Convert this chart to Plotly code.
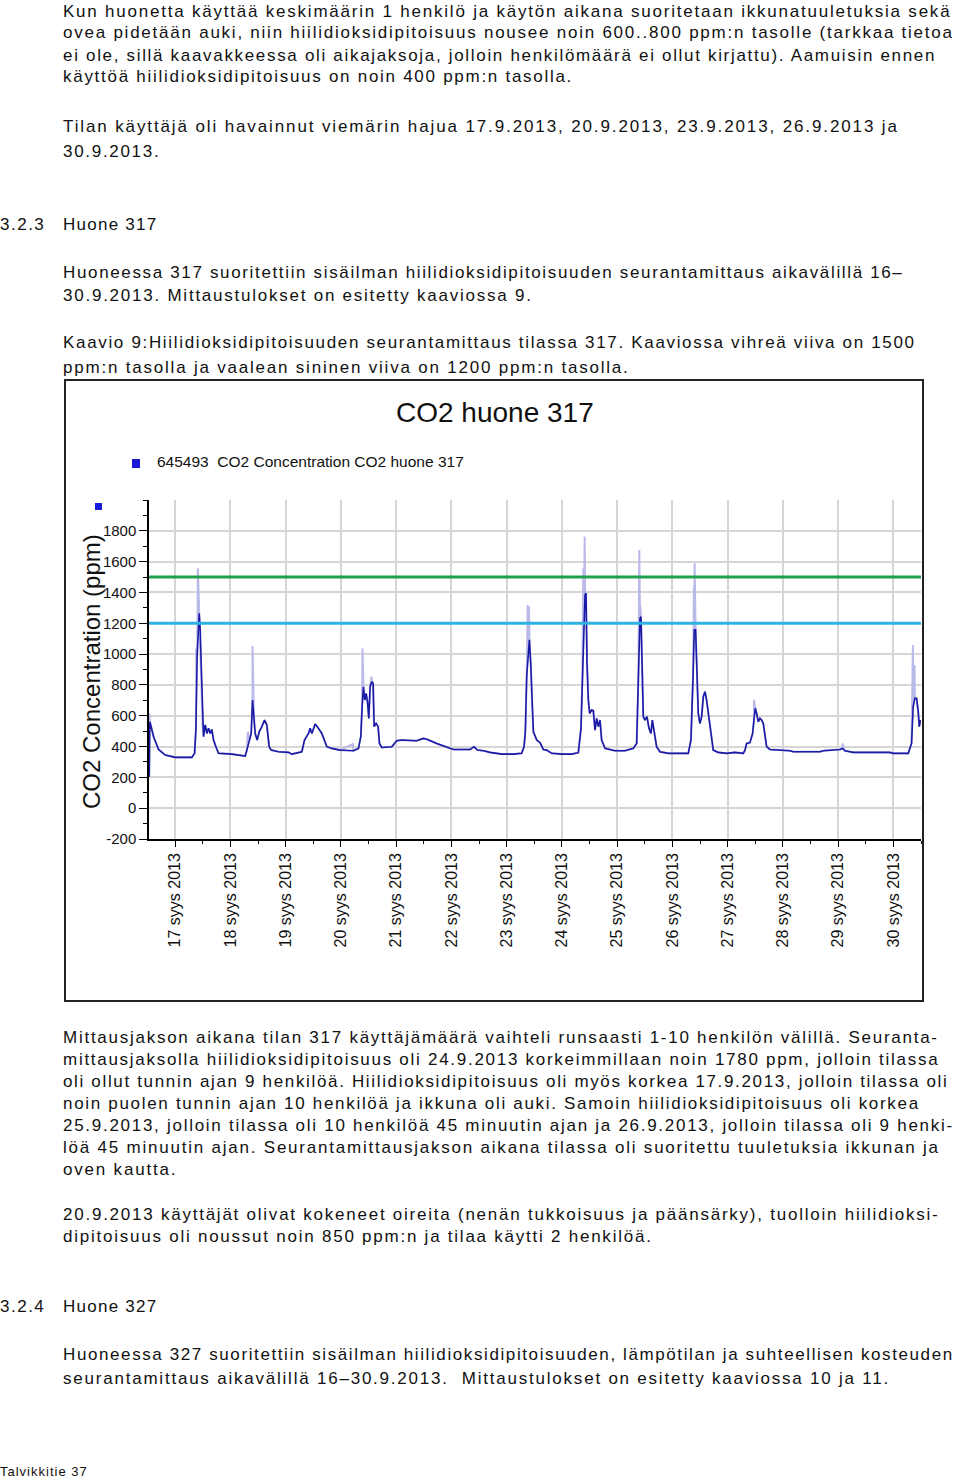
import plotly.graph_objects as go

# ---------------- data ----------------
# day of September 2013 (fractional) and CO2 concentration (ppm), main (dark) series
co2_day = [
    16.529, 16.541, 16.608, 16.698, 16.819, 17.000, 17.301, 17.350, 17.374, 17.398,
    17.434, 17.452, 17.470, 17.494, 17.512, 17.543, 17.573, 17.603, 17.633, 17.663,
    17.693, 17.736, 17.784, 18.025, 18.266, 18.297, 18.339, 18.375, 18.399, 18.423,
    18.447, 18.483, 18.520, 18.568, 18.616, 18.658, 18.700, 18.737, 18.869, 19.050,
    19.111, 19.292, 19.340, 19.412, 19.442, 19.473, 19.533, 19.593, 19.653, 19.744,
    19.834, 19.985, 20.226, 20.317, 20.359, 20.383, 20.407, 20.431, 20.455, 20.480,
    20.504, 20.528, 20.558, 20.582, 20.600, 20.636, 20.673, 20.697, 20.739, 20.920,
    21.010, 21.101, 21.252, 21.372, 21.493, 21.565, 21.734, 21.915, 22.036, 22.337,
    22.409, 22.470, 22.578, 22.699, 22.910, 23.121, 23.272, 23.314, 23.338, 23.362,
    23.387, 23.411, 23.435, 23.459, 23.483, 23.544, 23.604, 23.664, 23.724, 23.815,
    23.995, 24.176, 24.297, 24.345, 24.369, 24.394, 24.418, 24.436, 24.454, 24.478,
    24.502, 24.538, 24.568, 24.599, 24.629, 24.659, 24.689, 24.719, 24.780, 24.960,
    25.141, 25.292, 25.353, 25.383, 25.413, 25.431, 25.449, 25.473, 25.503, 25.539,
    25.576, 25.612, 25.636, 25.672, 25.714, 25.775, 25.925, 26.287, 26.335, 26.372,
    26.396, 26.420, 26.444, 26.468, 26.498, 26.529, 26.559, 26.589, 26.619, 26.649,
    26.697, 26.739, 26.830, 26.981, 27.132, 27.283, 27.313, 27.344, 27.404, 27.452,
    27.476, 27.500, 27.525, 27.555, 27.585, 27.615, 27.645, 27.675, 27.705, 27.766,
    27.947, 28.128, 28.188, 28.670, 28.731, 28.972, 29.032, 29.080, 29.123, 29.273,
    29.937, 29.997, 30.269, 30.329, 30.359, 30.389, 30.420, 30.450, 30.468, 30.492,
]
co2_ppm = [
    204, 561, 464, 381, 345, 330, 330, 356, 507, 1005,
    1265, 1157, 940, 550, 464, 540, 485, 518, 485, 511,
    442, 399, 356, 351, 338, 377, 442, 485, 702, 615,
    485, 442, 496, 529, 572, 540, 399, 377, 366, 362,
    351, 366, 442, 485, 518, 485, 546, 518, 485, 399,
    388, 377, 373, 388, 464, 659, 788, 702, 745, 691,
    583, 788, 821, 810, 529, 550, 529, 420, 394, 399,
    438, 442, 438, 438, 453, 446, 420, 394, 381, 381,
    399, 377, 373, 362, 351, 351, 356, 399, 496, 853,
    1005, 1092, 940, 691, 496, 442, 425, 381, 377, 356,
    351, 351, 360, 518, 853, 1221, 1384, 1395, 940, 702,
    615, 637, 633, 507, 583, 529, 572, 442, 388, 373,
    373, 388, 420, 832, 1232, 1243, 962, 594, 572, 594,
    518, 485, 572, 485, 399, 366, 356, 356, 442, 832,
    1157, 1157, 897, 615, 550, 594, 724, 756, 702, 615,
    507, 377, 362, 356, 362, 356, 377, 420, 425, 485,
    572, 648, 615, 561, 583, 572, 550, 485, 399, 381,
    377, 373, 366, 366, 373, 377, 381, 388, 373, 362,
    362, 356, 356, 420, 659, 713, 713, 626, 529, 572,
]
# short maximum spikes (light series)
peak_day = [16.530, 17.379, 17.410, 17.428, 18.314, 18.399, 20.214, 20.389, 20.552,
            23.380, 23.405, 24.388, 24.412, 25.401, 25.419, 26.390, 26.402,
            27.476, 29.080, 30.353, 30.383]
peak_ppm = [615, 1037, 1557, 1341, 496, 1053, 416, 1037, 853,
            1319, 1308, 1557, 1763, 1676, 1308, 1438, 1590,
            702, 420, 1059, 929]

limit_green = 1500
limit_cyan = 1200

tick_days = list(range(17, 31))
tick_labels = [f"{d} syys 2013" for d in tick_days]
y_ticks = list(range(-200, 1801, 200))

chart_title = "CO2 huone 317"
legend_label = "645493  CO2 Concentration CO2 huone 317"
y_title = "CO2 Concentration (ppm)"

# (y centre px, letter spacing px, text)
body_lines = [
    (11, 1.78, "Kun huonetta käyttää keskimäärin 1 henkilö ja käytön aikana suoritetaan ikkunatuuletuksia sekä"),
    (33, 1.76, "ovea pidetään auki, niin hiilidioksidipitoisuus nousee noin 600..800 ppm:n tasolle (tarkkaa tietoa"),
    (55, 1.68, "ei ole, sillä kaavakkeessa oli aikajaksoja, jolloin henkilömäärä ei ollut kirjattu). Aamuisin ennen"),
    (77, 1.72, "käyttöä hiilidioksidipitoisuus on noin 400 ppm:n tasolla."),
    (126, 1.88, "Tilan käyttäjä oli havainnut viemärin hajua 17.9.2013, 20.9.2013, 23.9.2013, 26.9.2013 ja"),
    (151, 1.7, "30.9.2013."),
    (224, 1.25, "Huone 317"),
    (272, 1.65, "Huoneessa 317 suoritettiin sisäilman hiilidioksidipitoisuuden seurantamittaus aikavälillä 16–"),
    (296, 1.76, "30.9.2013. Mittaustulokset on esitetty kaaviossa 9."),
    (343, 1.67, "Kaavio 9:Hiilidioksidipitoisuuden seurantamittaus tilassa 317. Kaaviossa vihreä viiva on 1500"),
    (367, 1.79, "ppm:n tasolla ja vaalean sininen viiva on 1200 ppm:n tasolla."),
    (1037, 1.74, "Mittausjakson aikana tilan 317 käyttäjämäärä vaihteli runsaasti 1-10 henkilön välillä. Seuranta-"),
    (1059, 1.72, "mittausjaksolla hiilidioksidipitoisuus oli 24.9.2013 korkeimmillaan noin 1780 ppm, jolloin tilassa"),
    (1081, 1.66, "oli ollut tunnin ajan 9 henkilöä. Hiilidioksidipitoisuus oli myös korkea 17.9.2013, jolloin tilassa oli"),
    (1103, 1.69, "noin puolen tunnin ajan 10 henkilöä ja ikkuna oli auki. Samoin hiilidioksidipitoisuus oli korkea"),
    (1125, 1.72, "25.9.2013, jolloin tilassa oli 10 henkilöä 45 minuutin ajan ja 26.9.2013, jolloin tilassa oli 9 henki-"),
    (1147, 1.78, "löä 45 minuutin ajan. Seurantamittausjakson aikana tilassa oli suoritettu tuuletuksia ikkunan ja"),
    (1169, 1.8, "oven kautta."),
    (1214, 1.76, "20.9.2013 käyttäjät olivat kokeneet oireita (nenän tukkoisuus ja päänsärky), tuolloin hiilidioksi-"),
    (1236, 1.76, "dipitoisuus oli noussut noin 850 ppm:n ja tilaa käytti 2 henkilöä."),
    (1306, 1.25, "Huone 327"),
    (1354, 1.6, "Huoneessa 327 suoritettiin sisäilman hiilidioksidipitoisuuden, lämpötilan ja suhteellisen kosteuden"),
    (1378, 1.78, "seurantamittaus aikavälillä 16–30.9.2013.  Mittaustulokset on esitetty kaaviossa 10 ja 11."),
]
section_numbers = [(224, "3.2.3"), (1306, "3.2.4")]
footer = "Talvikkitie 37"

# ---------------- layout helpers ----------------
W, H = 960, 1489
REF_H = 1481
def px(x):
    return x / W
def py(y):
    return 1 - y / REF_H

FONT = "Liberation Sans, Arial, sans-serif"

# light series = main series merged with spikes
merged = sorted(list(zip(co2_day, co2_ppm)) + list(zip(peak_day, peak_ppm)))
light_x = [m[0] for m in merged]
light_y = [m[1] for m in merged]

fig = go.Figure()
fig.add_trace(go.Scatter(x=light_x, y=light_y, mode="lines",
                         line=dict(color="#b9b9ea", width=2), hoverinfo="skip", showlegend=False))
fig.add_trace(go.Scatter(x=co2_day, y=co2_ppm, mode="lines",
                         line=dict(color="#1a1aa4", width=1.6), showlegend=False))
x0, x1 = 16.46, 30.5
fig.add_trace(go.Scatter(x=[x0, x1], y=[limit_green, limit_green], mode="lines",
                         line=dict(color="#1fa04c", width=3), showlegend=False))
fig.add_trace(go.Scatter(x=[x0, x1], y=[limit_cyan, limit_cyan], mode="lines",
                         line=dict(color="#2fb2e2", width=3), showlegend=False))

fig.update_layout(
    width=W, height=H, margin=dict(l=0, r=0, t=0, b=0),
    paper_bgcolor="white", plot_bgcolor="white",
    showlegend=False,
    xaxis=dict(domain=[px(149), px(921)], range=[16.525, 30.5],
               tickvals=tick_days, ticktext=tick_labels, tickangle=-90,
               tickfont=dict(family=FONT, size=16, color="#111"),
               showgrid=True, gridcolor="#d6d6d6", gridwidth=1.5,
               showline=True, linecolor="black", linewidth=1.5,
               ticks="outside", ticklen=6, tickcolor="black", tickwidth=1,
               minor=dict(dtick=0.5, tick0=16.5, ticks="outside", ticklen=3, tickcolor="black", showgrid=False),
               zeroline=False, fixedrange=True),
    yaxis=dict(domain=[py(839), py(500)], range=[-200, 2000],
               tickvals=y_ticks, ticktext=[str(v) for v in y_ticks],
               tickfont=dict(family=FONT, size=15, color="#111"),
               showgrid=True, gridcolor="#d6d6d6", gridwidth=1.5,
               showline=True, linecolor="black", linewidth=1.5,
               ticks="outside", ticklen=8, tickcolor="black", tickwidth=1,
               minor=dict(dtick=100, tick0=0, ticks="outside", ticklen=4, tickcolor="black", showgrid=False),
               zeroline=False, fixedrange=True),
)

shapes = [
    dict(type="rect", xref="paper", yref="paper", x0=px(65), x1=px(923), y0=py(1001), y1=py(380),
         line=dict(color="#222", width=2), fillcolor="rgba(0,0,0,0)", layer="below"),
    dict(type="rect", xref="paper", yref="paper", x0=px(132), x1=px(140), y0=py(468), y1=py(459),
         line=dict(width=0), fillcolor="#1a1ad8"),
    dict(type="rect", xref="paper", yref="paper", x0=px(95), x1=px(102), y0=py(510), y1=py(503),
         line=dict(width=0), fillcolor="#1a1ad8"),
]
fig.update_layout(shapes=shapes)

ann = []
def txt(x, y, s, size=17, spacing=1.72, anchor="left", angle=0, yanchor="middle"):
    if spacing:
        s = f'<span style="letter-spacing:{spacing}px">{s}</span>'
    ann.append(dict(xref="paper", yref="paper", x=px(x), y=py(y), text=s, showarrow=False,
                    xanchor=anchor, yanchor=yanchor, textangle=angle,
                    font=dict(family=FONT, size=size, color="#111")))

for y, sp, s in body_lines:
    txt(61, y, s, spacing=sp)
for y, s in section_numbers:
    txt(-2, y, s, spacing=1.5)
txt(-2, 1471, footer, size=13, spacing=1.0)

txt(495, 412, chart_title, size=28, spacing=0, anchor="center")
txt(155, 462, legend_label, size=15.5, spacing=0)
txt(91, 672, y_title, size=24, spacing=0, anchor="center", angle=-90)

fig.update_layout(annotations=ann)
fig.write_html("out.html", config={"displayModeBar": False},
               post_script="document.body.style.margin='0';")
